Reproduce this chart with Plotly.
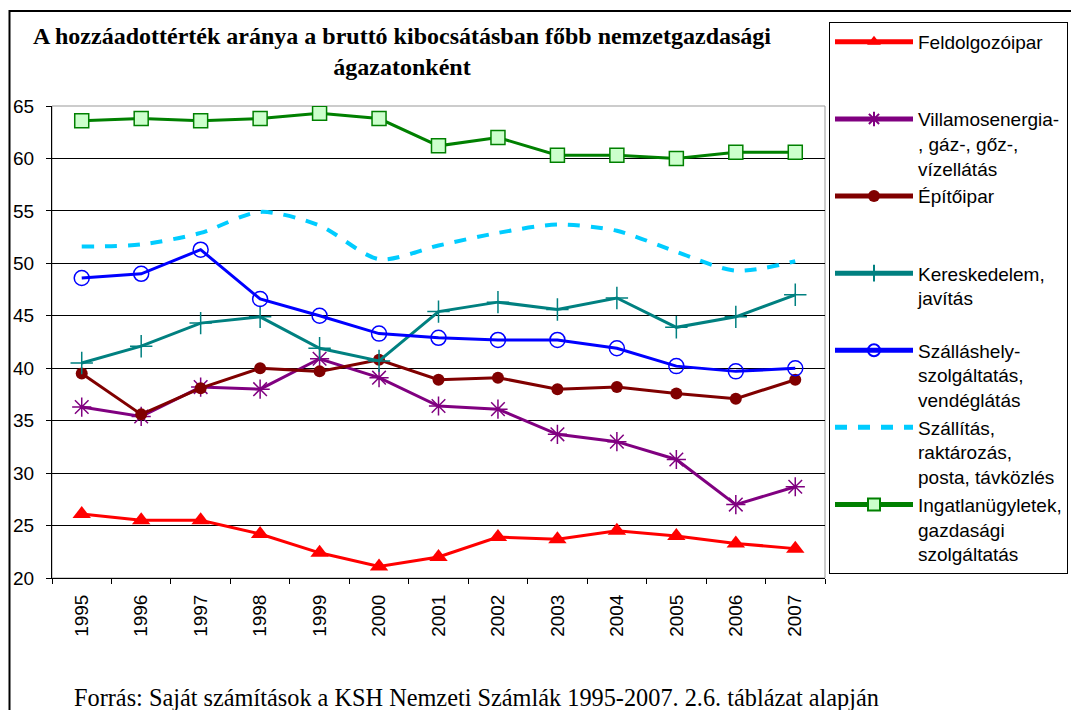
import plotly.graph_objects as go

years = ["1995", "1996", "1997", "1998", "1999", "2000", "2001",
         "2002", "2003", "2004", "2005", "2006", "2007"]

feldolgozoipar = [26.1, 25.5, 25.5, 24.2, 22.4, 21.1, 22.0, 23.9, 23.7, 24.5, 24.0, 23.3, 22.8]
villamosenergia = [36.3, 35.4, 38.2, 38.0, 40.9, 39.1, 36.4, 36.1, 33.7, 33.0, 31.3, 27.0, 28.7]
epitoipar = [39.5, 35.6, 38.1, 40.0, 39.7, 40.8, 38.9, 39.1, 38.0, 38.2, 37.6, 37.1, 38.9]
kereskedelem = [40.5, 42.1, 44.3, 44.9, 41.9, 40.7, 45.4, 46.3, 45.6, 46.7, 43.9, 44.9, 47.0]
szallashely = [48.6, 49.0, 51.3, 46.6, 45.0, 43.3, 42.9, 42.7, 42.7, 41.9, 40.2, 39.7, 40.0]
szallitas = [51.6, 51.8, 52.9, 54.9, 53.6, 50.4, 51.7, 52.9, 53.7, 53.1, 51.1, 49.3, 50.2]
ingatlan = [63.6, 63.8, 63.6, 63.8, 64.3, 63.8, 61.2, 62.0, 60.3, 60.3, 60.0, 60.6, 60.6]

names = [
    "Feldolgozóipar<br>&nbsp;<br>&nbsp;",
    "Villamosenergia-<br>, gáz-, gőz-,<br>vízellátás",
    "Építőipar<br>&nbsp;<br>&nbsp;",
    "Kereskedelem,<br>javítás<br>&nbsp;",
    "Szálláshely-<br>szolgáltatás,<br>vendéglátás",
    "Szállítás,<br>raktározás,<br>posta, távközlés",
    "Ingatlanügyletek,<br>gazdasági<br>szolgáltatás",
]

title_text = "A hozzáadottérték aránya a bruttó kibocsátásban főbb nemzetgazdasági<br>ágazatonként"
source_text = "Forrás: Saját számítások a KSH Nemzeti Számlák 1995-2007. 2.6. táblázat alapján"

W, H = 1071, 710
L, R, T, B = 52, 246, 106, 132
pw = W - L - R
ph = H - T - B


def px_x(x):
    return (x - L) / pw


def px_y(y):
    return (H - B - y) / ph


fig = go.Figure()

fig.add_trace(go.Scatter(
    x=years, y=feldolgozoipar, name=names[0], mode="lines+markers",
    line=dict(color="#FF0000", width=3),
    marker=dict(symbol="triangle-up", size=16, color="#FF0000"),
))
fig.add_trace(go.Scatter(
    x=years, y=villamosenergia, name=names[1], mode="lines+markers",
    line=dict(color="#800080", width=3),
    marker=dict(symbol="asterisk-open", size=16, color="#800080",
                line=dict(color="#800080", width=1.5)),
))
fig.add_trace(go.Scatter(
    x=years, y=epitoipar, name=names[2], mode="lines+markers",
    line=dict(color="#800000", width=3),
    marker=dict(symbol="circle", size=12, color="#800000"),
))
fig.add_trace(go.Scatter(
    x=years, y=kereskedelem, name=names[3], mode="lines+markers",
    line=dict(color="#008080", width=3),
    marker=dict(symbol="cross-thin-open", size=16, color="#008080",
                line=dict(color="#008080", width=1.5)),
))
fig.add_trace(go.Scatter(
    x=years, y=szallashely, name=names[4], mode="lines+markers",
    line=dict(color="#0000FF", width=3),
    marker=dict(symbol="circle-open", size=15, color="#0000FF",
                line=dict(color="#0000FF", width=1.5)),
))
fig.add_trace(go.Scatter(
    x=years, y=szallitas, name=names[5], mode="lines",
    line=dict(color="#00CCFF", width=4, dash="12px,11px", shape="spline", smoothing=0.8),
))
fig.add_trace(go.Scatter(
    x=years, y=ingatlan, name=names[6], mode="lines+markers",
    line=dict(color="#008000", width=3),
    marker=dict(symbol="square", size=14, color="#CCFFCC",
                line=dict(color="#008000", width=1.5)),
))

fig.update_layout(
    width=W, height=H,
    margin=dict(l=L, r=R, t=T, b=B, autoexpand=False),
    paper_bgcolor="white", plot_bgcolor="white",
    font=dict(family="Liberation Sans, Arial, sans-serif", size=19, color="black"),
    title=dict(
        text=title_text,
        font=dict(family="Liberation Serif, Times New Roman, serif", size=24,
                  color="black", weight="bold"),
        x=402 / W, xref="container", xanchor="center",
        y=1 - 44 / H, yref="container", yanchor="top",
    ),
    legend=dict(
        x=px_x(829), xanchor="left", y=px_y(22), yanchor="top",
        bgcolor="white", bordercolor="black", borderwidth=1,
        font=dict(family="Liberation Sans, Arial, sans-serif", size=19, color="black"),
        itemwidth=78, valign="top", tracegroupgap=0, maxheight=640,
        itemsizing="constant",
    ),
    showlegend=True,
)

fig.update_xaxes(
    type="category", categoryorder="array", categoryarray=years,
    range=[-0.5, len(years) - 0.5], autorange=False,
    tickangle=-90, ticks="outside", ticklen=5, tickcolor="black",
    tickson="boundaries", showline=True, linecolor="black", linewidth=1,
    showgrid=False, ticklabelstandoff=8,
    tickfont=dict(family="Liberation Sans, Arial, sans-serif", size=19),
)
fig.update_yaxes(
    range=[20, 65], dtick=5, tick0=20, ticks="outside", ticklen=5,
    tickcolor="black", showline=True, linecolor="black", linewidth=1,
    showgrid=True, gridcolor="black", gridwidth=1, zeroline=False,
    ticklabelstandoff=8,
    tickfont=dict(family="Liberation Sans, Arial, sans-serif", size=19),
)

# plot area border (grey)
fig.add_shape(type="rect", xref="paper", yref="paper", x0=0, y0=0, x1=1, y1=1,
              line=dict(color="#999999", width=1), layer="below")
# outer chart border
fig.add_shape(type="rect", xref="paper", yref="paper",
              x0=px_x(9.5), y0=px_y(725), x1=px_x(1090), y1=px_y(11),
              line=dict(color="black", width=2), layer="below")

fig.add_annotation(
    text=source_text, xref="paper", yref="paper",
    x=px_x(72), xanchor="left", y=px_y(697), yanchor="middle",
    showarrow=False,
    font=dict(family="Liberation Serif, Times New Roman, serif", size=24.3, color="black"),
)

fig.write_html("out.html", config={"displayModeBar": False},
               post_script="document.body.style.margin='0';")
